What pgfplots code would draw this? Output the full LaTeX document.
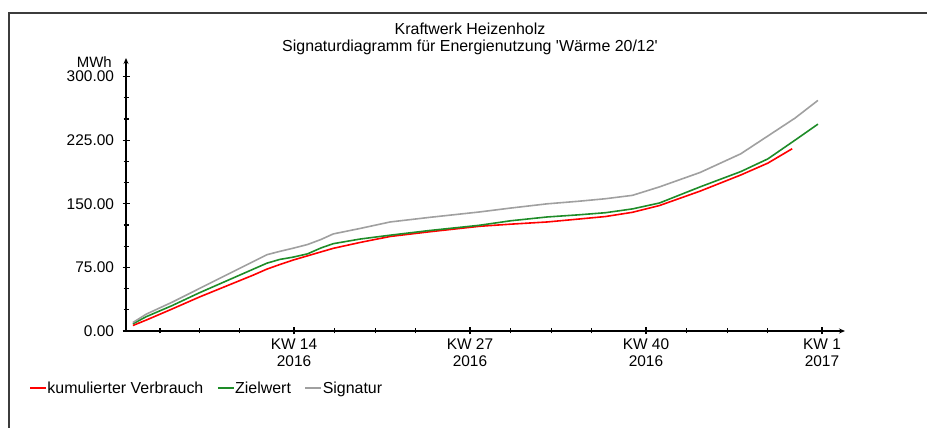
\documentclass[border=0pt]{standalone}
\usepackage{pgfplots}
\pgfplotsset{compat=1.18}
\usepackage{pgfplotstable}
\usepackage{fontspec}
\setmainfont{Liberation Sans}
\usetikzlibrary{arrows.meta}
\definecolor{framegray}{RGB}{60,60,60}
\definecolor{zielgreen}{RGB}{30,140,40}
\definecolor{siggray}{RGB}{160,160,160}

\pgfplotstableread{
w v
2.1 6.5
3.1 13
5 26
7 40
9 53
11 66
12.0 73
12.97 78.5
13.9 83.5
15.5 91
16.9 97.5
18.9 104.5
21.1 111.5
24 117
27.7 123.5
30 126
32.7 128.6
35 132
37 135
39 140
41 148
44 165
47 184
49 198
50.8 215
}\verbrauch

\pgfplotstableread{
w v
2.1 8.5
3.1 17
5 30
7 45
9 59
11 73
12.0 80
12.97 84.5
13.9 87
15.0 91
16.0 98
16.9 103
18.9 108.5
21.1 113
24 118.5
27.7 124.7
30 130
32.7 134.5
35 137
37 139.5
39 144
41 151
44 170
47 188
49 203
51 225
52.7 244
}\ziel

\pgfplotstableread{
w v
2.1 10
3.1 20
5 34
7 50
9 66
11 82
12.0 90
12.97 94
13.9 97.5
15.0 102
16.0 108
16.9 114.5
18.9 121
21.1 128.6
24 134
27.7 140.4
30 145
32.7 150
35 153
37 156
39 160
41 170
44 187
45.5 198
47 209
49 230
51 251
52.7 272
}\signatur

\begin{document}
\begin{tikzpicture}
\path[use as bounding box] (0,0) rectangle (927bp,428bp);
\draw[line width=2.4bp, framegray] (9bp,0bp) -- (9bp,415bp) -- (927bp,415bp);
\node[align=center, font=\fontsize{16}{17.5}\selectfont, inner sep=0pt] at (470bp,389bp)
  {Kraftwerk Heizenholz\\Signaturdiagramm für Energienutzung \textquotesingle Wärme 20/12\textquotesingle};
\begin{axis}[
  at={(126bp,97bp)}, anchor=south west,
  scale only axis, width=719bp, height=273bp,
  xmin=1.59, xmax=54.7, ymin=0, ymax=322,
  axis lines=left,
  axis line style={line width=1.3bp, black, -{Stealth[length=6bp,width=5bp]}},
  clip=false,
  ytick={0,75,150,225,300},
  minor ytick={25,50,100,125,175,200,250,275},
  xtick={14,27,40,53},
  minor xtick={4.1,7,10,17,20,23,30,33,36,43,46,49},
  xticklabels={{KW 14\\2016},{KW 27\\2016},{KW 40\\2016},{KW 1\\2017}},
  tick align=center,
  major tick length=7bp, minor tick length=5bp,
  every tick/.style={black, line width=1.2bp},
  /pgf/number format/fixed,
  /pgf/number format/fixed zerofill,
  /pgf/number format/precision=2,
  /pgf/number format/assume math mode=true,
  yticklabel style={font=\fontsize{15.5}{17}\selectfont, xshift=-5bp},
  xticklabel style={font=\fontsize{15.5}{17}\selectfont, align=center, yshift=-1bp},
  legend columns=3,
  legend style={at={(axis description cs:-0.135,-0.21)}, anchor=west, draw=none, fill=none,
    inner sep=0pt, font=\fontsize{16}{17}\selectfont,
    nodes={inner sep=0.5bp, anchor=west},
    /tikz/every even column/.append style={column sep=13bp}},
  legend image code/.code={\draw[#1, line width=1.8bp] (0bp,0bp) -- (16bp,0bp);},
]
\node[anchor=east, inner sep=0pt, font=\fontsize{15}{17}\selectfont] at (axis description cs:-0.0195,0.985) {MWh};
\addplot[red, line width=1.6bp, no markers] table[x=w, y=v] {\verbrauch};
\addlegendentry{kumulierter Verbrauch}
\addplot[zielgreen, line width=1.6bp, no markers] table[x=w, y=v] {\ziel};
\addlegendentry{Zielwert}
\addplot[siggray, line width=1.6bp, no markers] table[x=w, y=v] {\signatur};
\addlegendentry{Signatur}
\end{axis}
\end{tikzpicture}
\end{document}
